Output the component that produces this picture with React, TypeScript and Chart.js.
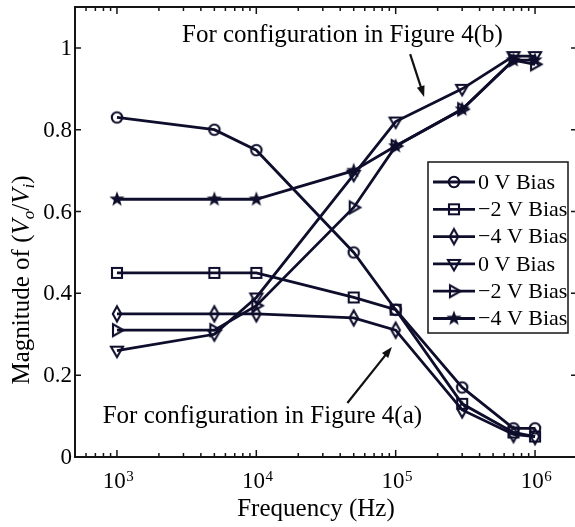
import React, { useEffect, useRef } from 'react';
import { Chart, registerables } from 'chart.js';

Chart.register(...registerables);

// ---------- data ----------
const frequencies = [1e3, 5e3, 1e4, 5e4, 1e5, 3e5, 7e5, 1e6];
const figA_0V = [0.83, 0.8, 0.75, 0.5, 0.36, 0.17, 0.07, 0.07];
const figA_m2V = [0.45, 0.45, 0.45, 0.39, 0.36, 0.13, 0.06, 0.05];
const figA_m4V = [0.35, 0.35, 0.35, 0.34, 0.31, 0.115, 0.055, 0.05];
const figB_0V = [0.26, 0.3, 0.39, 0.69, 0.82, 0.9, 0.98, 0.98];
const figB_m2V = [0.31, 0.31, 0.37, 0.61, 0.76, 0.85, 0.97, 0.96];
const figB_m4V = [0.63, 0.63, 0.63, 0.7, 0.76, 0.85, 0.97, 0.97];

const seriesLabels = ['0 V Bias', '\u22122 V Bias', '\u22124 V Bias', '0 V Bias', '\u22122 V Bias', '\u22124 V Bias'];
const seriesMarkers = ['circle', 'square', 'diamond', 'triDown', 'triRight', 'star'];

const yTickValues = [0, 0.2, 0.4, 0.6, 0.8, 1];
const yTickLabels = ['0', '0.2', '0.4', '0.6', '0.8', '1'];
const xTickValues = [1e3, 1e4, 1e5, 1e6];
const xTickBase = '10';
const xTickExponents = ['3', '4', '5', '6'];
const xMinorBases = [2, 3, 4, 5, 6, 7, 8, 9];

const xTitle = 'Frequency (Hz)';
const annotationA = 'For configuration in Figure 4(a)';
const annotationB = 'For configuration in Figure 4(b)';

const SERIF = "'Liberation Serif', 'Times New Roman', serif";
const INK = '#0e0e2c';
const AXIS = '#151515';

function makeMarker(kind: string, color: string): HTMLCanvasElement {
  const c = document.createElement('canvas');
  c.width = 24;
  c.height = 24;
  const g = c.getContext('2d')!;
  g.strokeStyle = color;
  g.fillStyle = color;
  g.lineWidth = 2.1;
  g.lineJoin = 'miter';
  g.translate(12, 12);
  g.beginPath();
  if (kind === 'circle') {
    g.arc(0, 0, 5.2, 0, Math.PI * 2);
    g.stroke();
  } else if (kind === 'square') {
    g.rect(-5, -5, 10, 10);
    g.stroke();
  } else if (kind === 'diamond') {
    g.moveTo(0, -7.5);
    g.lineTo(4.2, 0);
    g.lineTo(0, 7.5);
    g.lineTo(-4.2, 0);
    g.closePath();
    g.stroke();
  } else if (kind === 'triDown') {
    g.moveTo(-6, -4);
    g.lineTo(6, -4);
    g.lineTo(0, 6.5);
    g.closePath();
    g.stroke();
  } else if (kind === 'triRight') {
    g.moveTo(-4, -6);
    g.lineTo(-4, 6);
    g.lineTo(6.5, 0);
    g.closePath();
    g.stroke();
  } else if (kind === 'star') {
    for (let i = 0; i < 10; i++) {
      const r = i % 2 === 0 ? 8 : 3.3;
      const a = -Math.PI / 2 + (i * Math.PI) / 5;
      const px = Math.cos(a) * r;
      const py = Math.sin(a) * r;
      if (i === 0) g.moveTo(px, py);
      else g.lineTo(px, py);
    }
    g.closePath();
    g.fill();
  }
  return c;
}

function drawArrow(ctx: CanvasRenderingContext2D, x1: number, y1: number, x2: number, y2: number) {
  const ang = Math.atan2(y2 - y1, x2 - x1);
  const hl = 11;
  const hw = 4;
  ctx.save();
  ctx.strokeStyle = '#111';
  ctx.fillStyle = '#111';
  ctx.lineWidth = 2.2;
  ctx.beginPath();
  ctx.moveTo(x1, y1);
  ctx.lineTo(x2 - Math.cos(ang) * hl * 0.8, y2 - Math.sin(ang) * hl * 0.8);
  ctx.stroke();
  ctx.beginPath();
  ctx.moveTo(x2, y2);
  ctx.lineTo(x2 - Math.cos(ang) * hl - Math.sin(ang) * hw, y2 - Math.sin(ang) * hl + Math.cos(ang) * hw);
  ctx.lineTo(x2 - Math.cos(ang) * hl + Math.sin(ang) * hw, y2 - Math.sin(ang) * hl - Math.cos(ang) * hw);
  ctx.closePath();
  ctx.fill();
  ctx.restore();
}

export default function App() {
  const ref = useRef<HTMLCanvasElement | null>(null);

  useEffect(() => {
    const canvas = ref.current;
    if (!canvas) return;
    const markers = seriesMarkers.map((k) => makeMarker(k, INK));
    const allSeries = [figA_0V, figA_m2V, figA_m4V, figB_0V, figB_m2V, figB_m4V];

    const datasets = allSeries.map((vals, si) => ({
      label: seriesLabels[si],
      data: frequencies.map((f, i) => ({ x: f, y: vals[i] })),
      borderColor: INK,
      backgroundColor: INK,
      borderWidth: 2.8,
      pointStyle: markers[si] as any,
      pointRadius: 6,
      pointHoverRadius: 6,
      fill: false,
      tension: 0,
    }));

    const decorPlugin = {
      id: 'decor',
      afterDraw(chart: any) {
        const ctx: CanvasRenderingContext2D = chart.ctx;
        const area = chart.chartArea;
        const xs = chart.scales.x;
        const ys = chart.scales.y;
        ctx.save();
        // frame
        ctx.strokeStyle = AXIS;
        ctx.lineWidth = 2;
        ctx.strokeRect(area.left, area.top, area.right - area.left, area.bottom - area.top);
        // y ticks (inward, both sides)
        ctx.lineWidth = 1.5;
        ctx.beginPath();
        yTickValues.forEach((v) => {
          const py = ys.getPixelForValue(v);
          ctx.moveTo(area.left, py);
          ctx.lineTo(area.left + 6, py);
          ctx.moveTo(area.right, py);
          ctx.lineTo(area.right - 6, py);
        });
        // x ticks major + minor (inward, top & bottom)
        xTickValues.forEach((v) => {
          const px = xs.getPixelForValue(v);
          ctx.moveTo(px, area.bottom);
          ctx.lineTo(px, area.bottom - 7);
          ctx.moveTo(px, area.top);
          ctx.lineTo(px, area.top + 7);
        });
        const decades = [1e2, 1e3, 1e4, 1e5, 1e6];
        decades.forEach((d) => {
          xMinorBases.forEach((m) => {
            const v = d * m;
            if (v <= xs.min || v >= xs.max) return;
            const px = xs.getPixelForValue(v);
            ctx.moveTo(px, area.bottom);
            ctx.lineTo(px, area.bottom - 4);
            ctx.moveTo(px, area.top);
            ctx.lineTo(px, area.top + 4);
          });
        });
        ctx.stroke();

        // y tick labels
        ctx.fillStyle = '#000';
        ctx.font = `23px ${SERIF}`;
        ctx.textAlign = 'right';
        ctx.textBaseline = 'middle';
        yTickValues.forEach((v, i) => {
          ctx.fillText(yTickLabels[i], area.left - 3, ys.getPixelForValue(v) + 1);
        });

        // x tick labels with superscripts
        ctx.textBaseline = 'alphabetic';
        ctx.textAlign = 'left';
        xTickValues.forEach((v, i) => {
          const px = xs.getPixelForValue(v);
          ctx.font = `23px ${SERIF}`;
          const wb = ctx.measureText(xTickBase).width;
          ctx.font = `15px ${SERIF}`;
          const we = ctx.measureText(xTickExponents[i]).width;
          const x0 = px - (wb + we) / 2 + 1;
          ctx.font = `23px ${SERIF}`;
          ctx.fillText(xTickBase, x0, 488);
          ctx.font = `15px ${SERIF}`;
          ctx.fillText(xTickExponents[i], x0 + wb + 0.5, 481);
        });

        // x title
        ctx.font = `25px ${SERIF}`;
        ctx.textAlign = 'center';
        ctx.fillText(xTitle, 316, 516);

        // y title, rotated with italic V and subscripts
        const segs = [
          { t: 'Magnitude of (', f: `25px ${SERIF}`, dy: 0 },
          { t: 'V', f: `italic 25px ${SERIF}`, dy: 0 },
          { t: 'o', f: `italic 17px ${SERIF}`, dy: 5 },
          { t: '/', f: `25px ${SERIF}`, dy: 0 },
          { t: 'V', f: `italic 25px ${SERIF}`, dy: 0 },
          { t: 'i', f: `italic 17px ${SERIF}`, dy: 5 },
          { t: ')', f: `25px ${SERIF}`, dy: 0 },
        ];
        let total = 0;
        const widths = segs.map((s) => {
          ctx.font = s.f;
          const w = ctx.measureText(s.t).width;
          total += w;
          return w;
        });
        ctx.save();
        ctx.translate(29, 280);
        ctx.rotate(-Math.PI / 2);
        ctx.textAlign = 'left';
        let cx = -total / 2;
        segs.forEach((s, i) => {
          ctx.font = s.f;
          ctx.fillText(s.t, cx, s.dy);
          cx += widths[i];
        });
        ctx.restore();

        // legend
        const lx = 428, ly = 162, lw = 140, lh = 171;
        ctx.fillStyle = '#fff';
        ctx.fillRect(lx, ly, lw, lh);
        ctx.strokeStyle = AXIS;
        ctx.lineWidth = 1.5;
        ctx.strokeRect(lx, ly, lw, lh);
        seriesLabels.forEach((lab, i) => {
          const ry = 182 + i * 27.3;
          ctx.strokeStyle = INK;
          ctx.lineWidth = 2.8;
          ctx.beginPath();
          ctx.moveTo(433, ry);
          ctx.lineTo(475, ry);
          ctx.stroke();
          const m = markers[i];
          ctx.drawImage(m, 454 - m.width / 2, ry - m.height / 2);
          ctx.fillStyle = '#000';
          ctx.font = `22px ${SERIF}`;
          ctx.textAlign = 'left';
          ctx.textBaseline = 'middle';
          ctx.fillText(lab, 478, ry + 1);
        });

        // annotations (anchored in data coordinates)
        ctx.textBaseline = 'alphabetic';
        ctx.textAlign = 'left';
        ctx.font = `25px ${SERIF}`;
        ctx.fillStyle = '#000';
        ctx.fillText(annotationA, xs.getPixelForValue(790), ys.getPixelForValue(0.083));
        ctx.fillText(annotationB, xs.getPixelForValue(2930), ys.getPixelForValue(1.014));
        drawArrow(ctx, xs.getPixelForValue(4.5e4), ys.getPixelForValue(0.132), xs.getPixelForValue(9.4e4), ys.getPixelForValue(0.269));
        drawArrow(ctx, xs.getPixelForValue(1.27e5), ys.getPixelForValue(0.985), xs.getPixelForValue(1.6e5), ys.getPixelForValue(0.88));
        ctx.restore();
      },
    };

    const chart = new Chart(canvas, {
      type: 'line',
      data: { datasets: datasets as any },
      options: {
        responsive: false,
        animation: false,
        devicePixelRatio: 1,
        layout: { autoPadding: false, padding: { top: 7, left: 0, right: 0, bottom: 0 } },
        plugins: {
          legend: { display: false },
          tooltip: { enabled: false },
        },
        scales: {
          x: {
            type: 'logarithmic',
            min: 500,
            max: 2e6,
            grid: { display: false },
            border: { display: false },
            ticks: { display: false },
            afterBuildTicks: (s: any) => {
              s.ticks = xTickValues.map((v) => ({ value: v }));
            },
            afterFit: (s: any) => {
              s.height = 70;
            },
          },
          y: {
            type: 'linear',
            min: 0,
            max: 1.1,
            grid: { display: false },
            border: { display: false },
            ticks: { display: false },
            afterBuildTicks: (s: any) => {
              s.ticks = yTickValues.map((v) => ({ value: v }));
            },
            afterFit: (s: any) => {
              s.width = 75;
            },
          },
        },
      },
      plugins: [decorPlugin],
    });
    return () => chart.destroy();
  }, []);

  return (
    <div style={{ position: 'fixed', left: 0, top: 0, width: 575, height: 527, overflow: 'hidden', background: '#fff' }}>
      <canvas ref={ref} width={577} height={527} style={{ display: 'block' }} />
    </div>
  );
}
